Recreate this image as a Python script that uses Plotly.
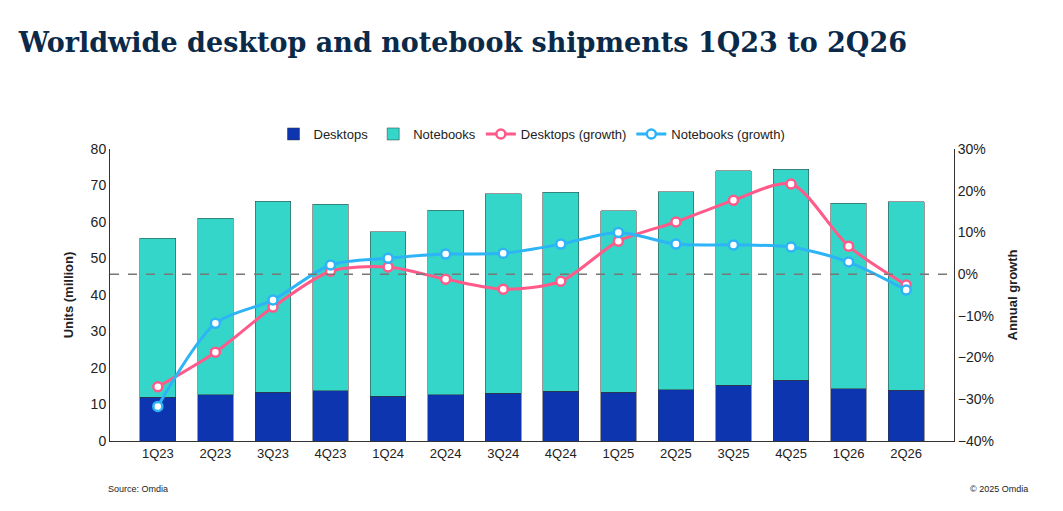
import plotly.graph_objects as go

quarters = ["1Q23","2Q23","3Q23","4Q23","1Q24","2Q24","3Q24","4Q24","1Q25","2Q25","3Q25","4Q25","1Q26","2Q26"]
desktops = [12.0,12.7,13.3,13.8,12.3,12.7,13.1,13.6,13.3,14.1,15.3,16.7,14.3,13.9]
totals = [55.5,61.0,65.7,64.8,57.3,63.2,67.8,68.1,63.1,68.3,74.0,74.5,65.2,65.6]
notebooks = [round(t-d,1) for t,d in zip(totals,desktops)]
desk_growth = [-27.0,-18.7,-7.9,0.7,1.7,-1.2,-3.6,-1.7,7.9,12.5,17.7,21.6,6.7,-2.6]
note_growth = [-31.7,-11.8,-6.2,2.2,3.8,4.8,5.0,7.2,10.0,7.2,7.0,6.5,2.9,-3.8]

fig = go.Figure()
fig.add_bar(x=quarters, y=desktops, name="Desktops", marker=dict(color="#0d35b0", line=dict(color="#333", width=0.5)))
fig.add_bar(x=quarters, y=notebooks, name="Notebooks", marker=dict(color="#33d6c8", line=dict(color="#333", width=0.5)))
fig.add_scatter(x=quarters, y=desk_growth, name="Desktops (growth)", yaxis="y2", mode="lines+markers",
                line=dict(color="#ff5a8a", width=3, shape="spline", smoothing=0.8),
                marker=dict(size=9, color="white", line=dict(color="#ff5a8a", width=2.5)))
fig.add_scatter(x=quarters, y=note_growth, name="Notebooks (growth)", yaxis="y2", mode="lines+markers",
                line=dict(color="#2db4f6", width=3, shape="spline", smoothing=0.8),
                marker=dict(size=9, color="white", line=dict(color="#2db4f6", width=2.5)))

fig.update_layout(
    width=1063, height=511, barmode="stack", bargap=0.38,
    paper_bgcolor="white", plot_bgcolor="white",
    margin=dict(l=102, r=117, t=141, b=78),
    font=dict(family="Liberation Sans, Arial", size=13, color="#222"),
    title=dict(text="<b>Worldwide desktop and notebook shipments 1Q23 to 2Q26</b>", x=0.01, y=0.95, xanchor="left",
               font=dict(family="DejaVu Serif", size=27, color="#0b2a4a")),
    legend=dict(orientation="h", traceorder="normal", x=0.5, xanchor="center", y=1.0, yanchor="bottom", font=dict(size=13)),
    xaxis=dict(showline=True, linecolor="#333", mirror=False, ticks="", tickfont=dict(size=13)),
    yaxis=dict(range=[0,80], dtick=10, showgrid=False, showline=True, linecolor="#333",
               title=dict(text="<b>Units (million)</b>", font=dict(size=13)), tickfont=dict(size=14)),
    yaxis2=dict(overlaying="y", side="right", range=[-40,30], dtick=10, ticksuffix="%", showgrid=False,
                showline=True, linecolor="#333", zeroline=False,
                title=dict(text="<b>Annual growth</b>", font=dict(size=13)), tickfont=dict(size=14)),
)
fig.add_shape(type="line", xref="paper", x0=0, x1=1, yref="y2", y0=0, y1=0,
              line=dict(color="#777", width=1.5, dash="dash"), layer="above")
fig.update_yaxes(title_standoff=14)
fig.add_annotation(text="Source: Omdia", xref="paper", yref="paper", x=-0.005, y=-0.19, showarrow=False,
                   xanchor="left", font=dict(size=9))
fig.add_annotation(text="© 2025 Omdia", xref="paper", yref="paper", x=1.09, y=-0.19, showarrow=False,
                   xanchor="right", font=dict(size=9))
fig.write_html("out.html")
